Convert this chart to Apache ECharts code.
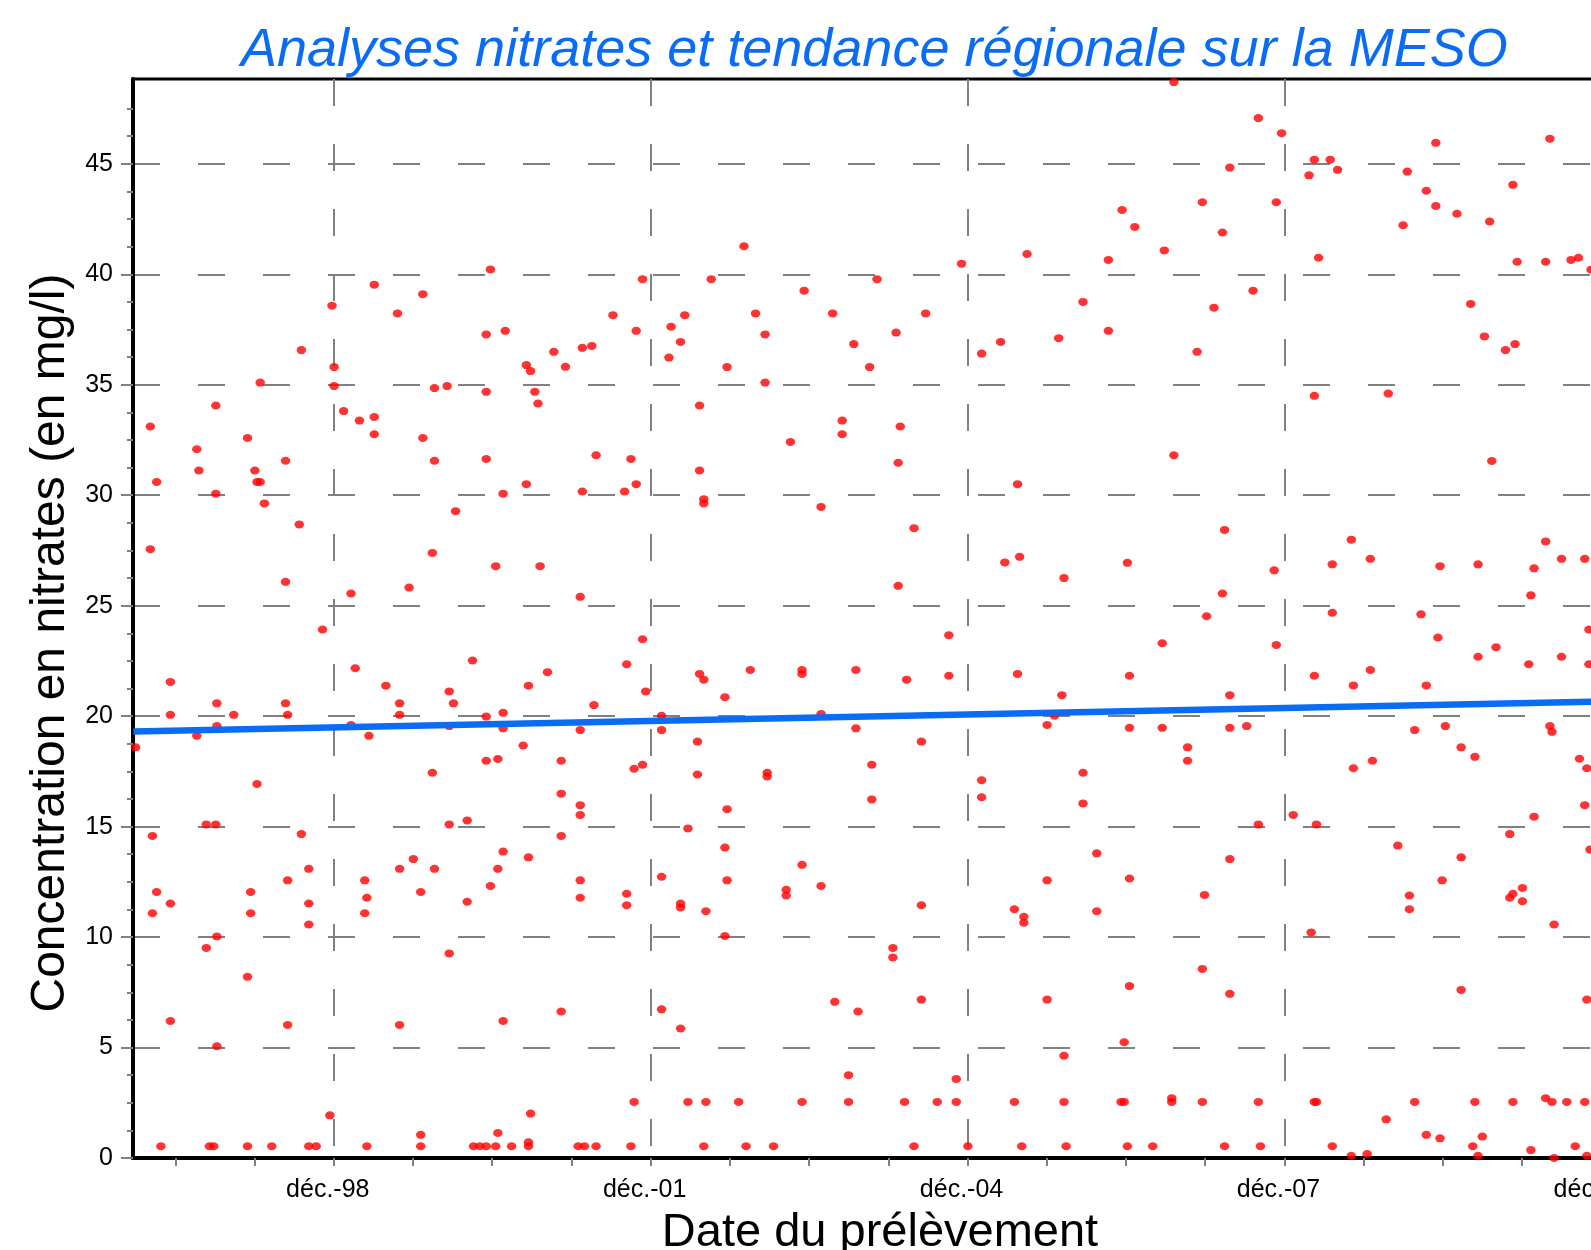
<!DOCTYPE html>
<html><head><meta charset="utf-8">
<script src="https://cdn.jsdelivr.net/npm/echarts@6/dist/echarts.min.js"></script>
<style>html,body{margin:0;padding:0;background:#fff;overflow:hidden}#chart{width:1591px;height:1250px}</style>
</head><body><div id="chart"></div><script>
const titleText = 'Analyses nitrates et tendance régionale sur la MESO';
const xAxisTitle = 'Date du prélèvement';
const yAxisTitle = 'Concentration en nitrates (en mg/l)';
const xTickLabels = ['déc.-98', 'déc.-01', 'déc.-04', 'déc.-07', 'déc.-10'];
const xTickYears = [1998.9167, 2001.9167, 2004.9167, 2007.9167, 2010.9167];
const xMinorStep = 0.75;
const yTickValues = [0, 5, 10, 15, 20, 25, 30, 35, 40, 45];
const yMinorStep = 1.25;
const xRange = [1997.016, 2011.16];
const yRange = [0, 48.84];
const trendYears = [1997.02, 2011.16];
const trendValues = [19.30, 20.69];

// [decimal year, nitrate mg/l]
const samples1997 = [
[2000.40,40.22],[1999.30,39.53],[1999.76,39.10],[1998.90,38.58],[1999.52,38.23],[2001.56,38.15],[2000.36,37.28],[2000.54,37.44],
[1998.61,36.57],[2001.00,36.49],[2001.27,36.67],[2001.36,36.76],[1998.92,35.80],[2000.74,35.89],[2000.78,35.62],[2001.11,35.81],
[1998.22,35.10],[1998.92,34.94],[1999.87,34.85],[1999.99,34.94],[2000.36,34.68],[2000.82,34.68],[2000.85,34.15],[1997.80,34.06],
[1997.18,33.11],[1999.01,33.81],[1999.16,33.38],[1999.30,33.54],[1999.30,32.76],[1998.10,32.59],[1999.76,32.59],[1997.62,32.08],
[1997.64,31.12],[1998.17,31.12],[1998.46,31.56],[1999.87,31.56],[2000.36,31.64],[2001.40,31.81],[1997.24,30.60],[1998.19,30.60],
[1998.22,30.60],[1997.80,30.07],[2000.52,30.07],[2000.74,30.50],[2001.27,30.17],[1998.26,29.63],[2000.07,29.28],[1998.59,28.68],
[1997.18,27.56],[1999.85,27.39],[2000.45,26.79],[2000.87,26.79],[1998.46,26.08],[1999.63,25.82],[1999.08,25.55],[2001.25,25.40],
[1998.81,23.92],[1997.37,21.55],[1999.12,22.17],[1999.41,21.38],[2000.23,22.52],[2000.94,21.99],[2000.76,21.38],[2000.01,21.12],
[1997.37,20.06],[1997.81,20.58],[1997.97,20.06],[1998.46,20.58],[1998.48,20.06],[1999.54,20.58],[1999.54,20.06],[2000.05,20.58],
[2000.36,19.98],[2000.52,20.15],[2001.38,20.50],[1997.81,19.55],[1997.04,18.59],[1997.62,19.11],[1999.08,19.60],[1999.25,19.11],
[2000.01,19.55],[2000.52,19.45],[2001.25,19.37],[2000.71,18.67],[2000.36,17.98],[2000.47,18.06],[2001.07,17.98],[1999.85,17.44],
[1998.19,16.93],[2001.07,16.49],[2001.25,15.97],[2001.25,15.53],[1997.71,15.10],[1997.80,15.10],[2000.01,15.10],[2000.18,15.28],
[1997.20,14.58],[1998.61,14.66],[2001.07,14.58],[2000.52,13.87],[1999.67,13.53],[2000.76,13.61],[1998.68,13.09],[1999.54,13.09],
[1999.87,13.09],[2000.47,13.09],[1998.48,12.57],[1999.21,12.57],[2001.25,12.57],[1997.24,12.04],[1998.13,12.04],[1999.74,12.04],
[2000.40,12.31],[1997.37,11.52],[1998.68,11.52],[1999.23,11.78],[2000.18,11.60],[2001.25,11.78],[1997.20,11.08],[1998.13,11.08],
[1999.21,11.08],[1998.68,10.57],[1997.81,10.03],[1997.71,9.51],[2000.01,9.26],[1998.10,8.20],[1997.37,6.20],[1998.48,6.02],
[1999.54,6.02],[2000.52,6.20],[2001.07,6.63],[1997.81,5.06],[1998.88,1.93],[2000.78,2.01],[1999.74,1.05],[2000.47,1.13],
[2000.76,0.71],[1997.28,0.53],[1997.74,0.53],[1997.78,0.53],[1998.10,0.53],[1998.33,0.53],[1998.68,0.53],[1998.75,0.53],
[1999.23,0.53],[1999.74,0.53],[2000.24,0.53],[2000.30,0.53],[2000.36,0.53],[2000.45,0.53],[2000.60,0.53],[2000.76,0.53],
[2001.23,0.53],[2001.29,0.53],[2001.40,0.53]
];
const samples2002 = [
[2002.80,41.27],[2001.84,39.78],[2002.49,39.78],[2004.06,39.78],[2003.37,39.26],[2004.86,40.48],[2005.48,40.92],[2001.78,37.44],
[2002.11,37.63],[2002.24,38.15],[2002.20,36.94],[2002.09,36.23],[2002.91,38.23],[2003.00,37.28],[2003.64,38.23],[2002.64,35.80],
[2003.00,35.10],[2003.84,36.84],[2003.99,35.80],[2004.24,37.36],[2004.52,38.23],[2005.05,36.41],[2005.23,36.94],[2005.78,37.11],
[2006.01,38.75],[2002.38,34.06],[2003.73,33.38],[2003.73,32.76],[2003.24,32.41],[2004.28,33.11],[2004.26,31.47],[2001.73,31.64],
[2002.38,31.12],[2001.78,30.50],[2001.67,30.17],[2002.42,29.82],[2002.42,29.63],[2003.53,29.47],[2005.39,30.50],[2004.41,28.51],
[2005.27,26.96],[2005.41,27.21],[2004.26,25.90],[2005.83,26.25],
[2001.84,23.48],[2001.69,22.35],[2001.87,21.12],[2002.38,21.91],[2002.42,21.65],[2002.62,20.86],[2002.86,22.09],[2003.35,22.09],
[2003.35,21.91],[2003.86,22.09],[2004.34,21.65],[2004.74,23.66],[2004.74,21.83],[2005.39,21.91],[2005.81,20.95],[2002.02,20.02],
[2003.53,20.10],[2005.74,20.02],[2002.02,19.37],[2002.36,18.85],[2003.86,19.45],[2004.48,18.85],[2005.67,19.60],[2001.76,17.62],
[2001.84,17.80],[2002.36,17.36],[2003.02,17.44],[2003.02,17.27],[2004.01,17.80],[2005.05,17.10],[2006.01,17.44],[2004.01,16.23],
[2005.05,16.33],[2006.01,16.05],[2002.64,15.79],[2002.27,14.92],[2002.62,14.05],[2006.14,13.79],[2002.02,12.73],[2002.64,12.57],
[2003.35,13.27],[2003.53,12.31],[2003.20,12.14],[2003.20,11.88],[2005.67,12.57],[2001.69,11.96],[2001.69,11.44],[2002.20,11.52],
[2002.20,11.34],[2002.44,11.17],[2004.48,11.44],[2005.36,11.26],[2005.45,10.92],[2005.45,10.65],[2006.14,11.17],[2002.62,10.05],
[2004.21,9.51],[2004.21,9.08],[2002.02,6.73],[2002.20,5.86],[2003.66,7.07],[2003.88,6.63],[2004.48,7.17],[2005.67,7.17],
[2005.83,4.63],[2003.79,3.75],[2004.81,3.58],
[2001.76,2.54],[2002.27,2.54],[2002.44,2.54],[2002.75,2.54],[2003.35,2.54],[2003.79,2.54],[2004.32,2.54],[2004.63,2.54],
[2004.81,2.54],[2005.36,2.54],[2005.83,2.54],
[2001.73,0.53],[2002.42,0.53],[2002.82,0.53],[2003.08,0.53],[2004.41,0.53],[2004.92,0.53],[2005.43,0.53],[2005.85,0.53]
];
const samples2007 = [
[2006.87,48.70],[2007.67,47.07],[2007.89,46.39],[2009.35,45.95],[2010.43,46.14],[2008.20,45.19],[2008.35,45.19],[2007.40,44.83],
[2008.15,44.48],[2008.42,44.73],[2009.08,44.65],[2009.26,43.78],[2010.08,44.05],[2006.38,42.91],[2006.50,42.14],[2007.14,43.26],
[2007.84,43.26],[2007.33,41.89],[2009.04,42.22],[2009.35,43.09],[2009.55,42.74],[2009.86,42.39],[2006.25,40.65],[2006.78,41.08],
[2008.24,40.75],[2010.12,40.57],[2010.39,40.57],[2010.63,40.65],[2010.70,40.75],[2010.82,40.21],[2007.62,39.26],[2007.25,38.49],
[2006.25,37.44],[2007.09,36.49],[2009.68,38.66],[2009.81,37.19],[2010.01,36.57],[2010.10,36.84],[2008.20,34.50],[2008.90,34.60],
[2006.87,31.81],[2009.88,31.55],[2007.35,28.43],[2008.55,27.99],[2010.39,27.91],[2006.43,26.94],[2008.37,26.87],[2008.73,27.12],
[2009.39,26.79],[2009.75,26.87],[2010.28,26.69],[2010.54,27.12],[2010.76,27.12],[2007.82,26.60],[2007.33,25.55],[2010.25,25.47],
[2007.18,24.52],[2008.37,24.68],[2009.21,24.61],
[2010.80,23.92],[2006.76,23.30],[2007.84,23.22],[2009.37,23.56],[2009.75,22.69],[2009.92,23.12],[2010.23,22.35],[2010.54,22.69],
[2010.80,22.35],[2006.45,21.83],[2008.20,21.83],[2008.73,22.09],[2008.57,21.39],[2009.26,21.39],[2007.40,20.95],[2006.45,19.47],
[2006.76,19.47],[2007.40,19.47],[2007.56,19.55],[2009.15,19.37],[2009.44,19.55],[2010.43,19.55],[2010.45,19.29],[2007.00,18.59],
[2007.00,17.98],[2009.59,18.59],[2009.72,18.16],[2008.57,17.64],[2008.75,17.98],[2010.71,18.07],[2010.78,17.64],[2008.00,15.53],
[2007.67,15.10],[2008.22,15.10],[2010.76,15.97],[2010.28,15.45],[2010.05,14.66],[2008.99,14.14],[2009.59,13.61],[2010.81,13.96],
[2007.40,13.53],[2006.45,12.65],[2007.16,11.91],[2009.41,12.57],[2009.10,11.88],[2009.10,11.26],[2010.05,11.78],[2010.08,11.96],
[2010.17,12.22],[2010.17,11.62],[2010.47,10.57],[2008.17,10.21],[2007.14,8.56],[2006.45,7.78],[2007.40,7.43],[2009.59,7.61],
[2010.78,7.17],[2006.40,5.24],
[2006.37,2.54],[2006.40,2.54],[2006.85,2.71],[2006.85,2.54],[2007.14,2.54],[2007.67,2.54],[2008.20,2.54],[2008.22,2.54],
[2009.15,2.54],[2009.72,2.54],[2010.08,2.54],[2010.39,2.71],[2010.45,2.54],[2010.59,2.54],[2010.76,2.54],
[2008.88,1.75],[2009.26,1.05],[2009.39,0.89],[2009.79,0.97],
[2006.43,0.53],[2006.67,0.53],[2007.35,0.53],[2007.69,0.53],[2008.37,0.53],[2009.70,0.53],[2010.67,0.53],
[2009.75,0.10],[2008.55,0.10],[2008.70,0.18],[2010.25,0.36],[2010.47,0.00],[2010.78,0.10]
];

const FONT = 'Liberation Sans, Arial, sans-serif';
const minorX = [];
for (let k = -4; k < 40; k++) {
  const t = +(xTickYears[0] + k * xMinorStep).toFixed(4);
  if (t > xRange[0] && t < xRange[1]) minorX.push(t);
}
const minorY = [];
for (let v = yMinorStep; v < 48; v += yMinorStep) minorY.push(+v.toFixed(2));

const gridDash = { color: '#808080', width: 2, type: [27, 38] };
const tickStyle = { color: '#808080', width: 2 };

const chart = echarts.init(document.getElementById('chart'), null, { renderer: 'canvas' });
chart.setOption({
  backgroundColor: '#fff',
  animation: false,
  title: {
    text: titleText, left: 236, top: 19,
    textStyle: { fontFamily: FONT, fontSize: 54, fontStyle: 'italic', fontWeight: 'normal', color: '#0a6cf5' }
  },
  grid: { left: 133, top: 79, width: 1494, height: 1079, show: true, borderColor: '#000', borderWidth: 3, backgroundColor: 'transparent', containLabel: false, outerBoundsMode: 'none' },
  xAxis: [
    {
      type: 'value', min: xRange[0], max: xRange[1], position: 'bottom',
      axisLine: { show: true, onZero: false, lineStyle: { color: '#000', width: 4 } },
      axisTick: { show: false, customValues: xTickYears },
      axisLabel: {
        customValues: xTickYears, margin: 20, fontSize: 25, color: '#000', fontFamily: FONT, padding: [0, 12, 0, 0],
        formatter: v => { const i = xTickYears.findIndex(t => Math.abs(t - v) < 0.01); return i >= 0 ? xTickLabels[i] : ''; }
      },
      splitLine: { show: true, lineStyle: gridDash },
      name: xAxisTitle, nameLocation: 'middle', nameGap: 52,
      nameTextStyle: { fontSize: 47, color: '#000', fontFamily: FONT }
    },
    {
      type: 'value', min: xRange[0], max: xRange[1], position: 'bottom',
      axisLine: { show: false },
      axisTick: { show: true, customValues: minorX, length: 8, lineStyle: tickStyle },
      axisLabel: { show: false },
      splitLine: { show: false }
    }
  ],
  yAxis: [
    {
      type: 'value', min: yRange[0], max: yRange[1], interval: 5, position: 'left',
      axisLine: { show: true, onZero: false, lineStyle: { color: '#000', width: 4 } },
      axisTick: { show: true, length: 12, customValues: yTickValues, lineStyle: tickStyle },
      axisLabel: { customValues: yTickValues, margin: 20, fontSize: 25, color: '#000', fontFamily: FONT },
      splitLine: { show: true, lineStyle: gridDash },
      name: yAxisTitle, nameLocation: 'middle', nameGap: 47,
      nameTextStyle: { fontSize: 48, color: '#000', fontFamily: FONT, padding: [0, 49, 0, 0] }
    },
    {
      type: 'value', min: yRange[0], max: yRange[1], position: 'left',
      axisLine: { show: false },
      axisTick: { show: true, length: 6, customValues: minorY, lineStyle: tickStyle },
      axisLabel: { show: false },
      splitLine: { show: false }
    }
  ],
  series: [
    {
      type: 'scatter', xAxisIndex: 0, yAxisIndex: 0, symbol: 'circle', symbolSize: [9.5, 8],
      itemStyle: { color: '#ff0000' }, z: 2,
      data: samples1997.concat(samples2002, samples2007)
    },
    {
      type: 'line', xAxisIndex: 0, yAxisIndex: 0, showSymbol: false, symbol: 'none', z: 4,
      lineStyle: { color: '#0a6cf5', width: 6.5 },
      data: trendYears.map((t, i) => [t, trendValues[i]])
    }
  ]
});
</script></body></html>
